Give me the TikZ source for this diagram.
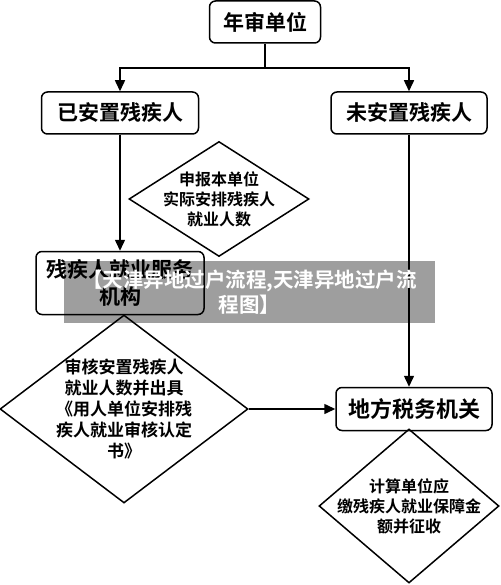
\documentclass[tikz,border=0pt]{standalone}
\usepackage{fontspec}
\newfontfamily\cjk{Noto Sans CJK SC Bold}
\usetikzlibrary{positioning,shapes.geometric,arrows.meta}

\tikzset{
  box/.style={draw, rounded corners=6pt, line width=1.5pt, inner sep=0pt,
    align=center, font=\cjk\fontsize{21}{27}\selectfont},
  dia/.style={draw, diamond, line width=1.5pt, inner sep=0pt},
  dtext/.style={align=center, font=\cjk\fontsize{16}{20}\selectfont},
  flow/.style={line width=1.5pt, -{Triangle[length=11pt,width=10pt]}},
}

\begin{document}
\begin{tikzpicture}[x=1pt,y=-1pt,on grid]
  \useasboundingbox (0,0) rectangle (500,585);
  \node[box, minimum width=111pt, minimum height=42pt] (audit) at (265,22) {年审单位};
  \node[box, minimum width=157pt, minimum height=42pt] (placed) [below left=91pt and 145pt of audit] {已安置残疾人};
  \node[box, minimum width=156pt, minimum height=42pt] (unplaced) [below right=91pt and 144pt of audit] {未安置残疾人};
  \node[box, minimum width=168pt, minimum height=63pt] (service) [below=170pt of placed] {残疾人就业服务\\机构};
  \node[dia, minimum width=180pt, minimum height=115pt,
    label={[dtext]center:{申报本单位\\实际安排残疾人\\就业人数}}] (report) [below right=86pt and 99pt of placed] {};
  \node[dia, minimum width=248pt, minimum height=188pt,
    label={[dtext, font=\cjk\fontsize{17}{21}\selectfont]center:{审核安置残疾人\\就业人数并出具\\《用人单位安排残\\疾人就业审核认定\\书》}}] (check) [below right=126pt and 4pt of service] {};
  \node[box, minimum width=156pt, minimum height=43pt, font=\cjk\fontsize{22}{27}\selectfont] (tax) [below right=296pt and 5pt of unplaced] {地方税务机关};
  \node[dia, minimum width=180pt, minimum height=154pt,
    label={[dtext]center:{计算单位应\\缴残疾人就业保障金\\额并征收}}] (levy) [below left=97pt and 5pt of tax] {};
  \coordinate[below=46pt of audit] (fork);

  \draw[line width=1.5pt] (audit) -- (fork);
  \draw[flow] (fork) -| (placed);
  \draw[flow] (fork) -| (unplaced);
  \draw[flow] (placed) -- (service);
  \draw[flow] (unplaced.south) -- (unplaced.south |- tax.north);
  \draw[flow] (check.east) -- (tax.west);

  % overlay banner
  \node[fill=black, fill opacity=0.38, text opacity=1, text=white, align=center,
    minimum width=371pt, minimum height=62pt, inner sep=0pt,
    font=\cjk\fontsize{20.5}{25}\selectfont] (banner) at (249.5,292)
    {【天津异地过户流程,天津异地过户流\\程图】};
\end{tikzpicture}
\end{document}
